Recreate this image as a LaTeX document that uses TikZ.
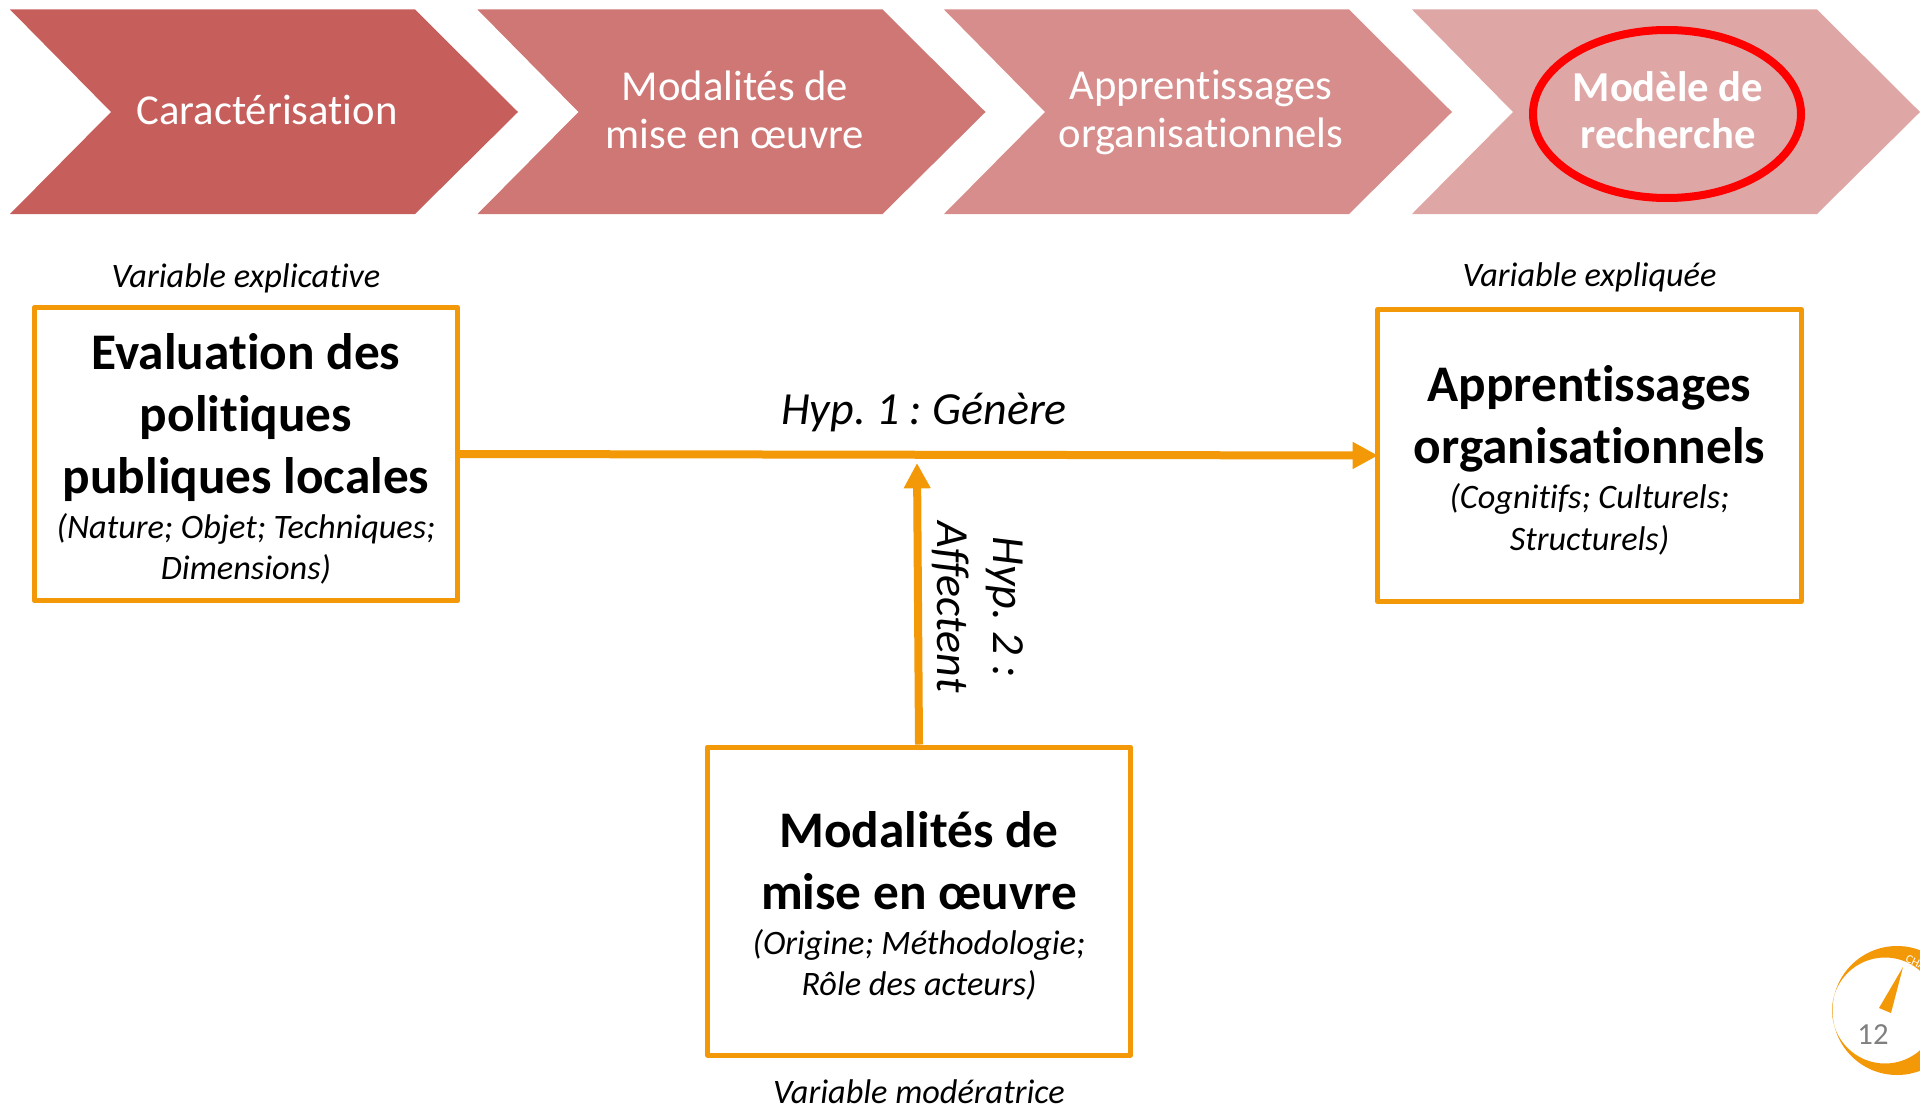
\documentclass[tikz,border=0pt]{standalone}
\usepackage{fontspec}
\setmainfont[Ligatures=NoCommon]{Carlito}
\usetikzlibrary{arrows.meta}

\definecolor{orangeline}{RGB}{243,152,6}
\definecolor{chevronA}{RGB}{198,95,92}
\definecolor{chevronB}{RGB}{206,119,117}
\definecolor{chevronC}{RGB}{214,141,139}
\definecolor{chevronD}{RGB}{223,166,166}
\definecolor{gaugetext}{RGB}{128,128,128}

\newcommand{\bigline}{\fontsize{38.5}{46.5}\selectfont\bfseries}
\newcommand{\smallline}{\vskip2.6pt\fontsize{25.7}{31.2}\selectfont\itshape}
\newcommand{\topgap}{\vskip-12pt}
\frenchspacing

\tikzset{every picture/.style={line width=0.75pt},
  chevrontext/.style={inner sep=0pt,align=center,text=white,font=\fontsize{32}{35.7}\selectfont},
  varbox/.style={draw=orangeline,line width=3.75pt,line join=round,fill=white,inner sep=0pt,align=flush center,text width=305pt,minimum width=317.5pt},
  varlabel/.style={inner sep=0pt,font=\fontsize{25.7}{31}\selectfont\itshape},
  hyplabel/.style={inner sep=0pt,align=center,font=\fontsize{34.5}{42}\selectfont\itshape},
  hyparrow/.style={draw=orangeline,line width=6pt,-{Triangle[length=19pt,width=19pt]},shorten >=-2pt}}

\begin{document}
\begin{tikzpicture}[x=0.75pt,y=0.75pt,yscale=-1,xscale=1]
\useasboundingbox (0,0) rectangle (1920,1106);

%Shape: Chevrons
\foreach \xoff/\chevcol in {0/chevronA,467.5/chevronB,934/chevronC,1402/chevronD}
  \fill [\chevcol,xshift=\xoff*0.75pt] (10,9.5) -- (415,9.5) -- (518,112) -- (415,214) -- (10,214) -- (111,112) -- cycle ;

% Text Node
\node (caracterisation) [chevrontext] at (267,110) {Caractérisation};
% Text Node
\node (modalitestitle) [chevrontext] at (735,110) {Modalités de\\mise en œuvre};
% Text Node
\node (apprentissagestitle) [chevrontext] at (1201,112.5) {Apprentissages\\organisationnels};
% Text Node
\node (modeletitle) [chevrontext,font=\fontsize{32}{35.7}\selectfont\bfseries] at (1668,110) {Modèle de\\recherche};
%Shape: Ellipse
\draw [red,line width=6pt] (1667,114) ellipse [x radius=134,y radius=84];

%Shape: Boxes
\node (evaluation) [varbox,minimum height=220pt] at (246,454) {\topgap{\bigline Evaluation des\\politiques\\publiques locales\par}{\smallline (Nature; Objet; Techniques;\\Dimensions)\par}};
\node (apprentissages) [varbox,minimum height=219pt] at (1589.5,455.5) {\topgap{\bigline Apprentissages\\organisationnels\par}{\smallline (Cognitifs; Culturels;\\Structurels)\par}};
\node (modalites) [varbox,minimum height=231pt] at (919,901) {\topgap{\bigline Modalités de\\mise en œuvre\par}{\smallline (Origine; Méthodologie;\\Rôle des acteurs)\par}};

%Straight Lines
\coordinate (hyptarget) at (917,463);
\draw [hyparrow] (evaluation.east) -- (apprentissages.west);
\draw [hyparrow,shorten >=0pt] (modalites.north) -- (hyptarget);

% Text Node
\node (varexplicative) [varlabel] at (246,278.5) {Variable explicative};
% Text Node
\node (varexpliquee) [varlabel] at (1589.5,277.5) {Variable expliquée};
% Text Node
\node (varmoderatrice) [varlabel] at (919,1091.5) {Variable modératrice};
% Text Node
\node (hypone) [hyplabel] at (924,412.5) {Hyp. 1 : Génère};
% Text Node
\node (hyptwo) [hyplabel,rotate=-90] at (978,607) {Hyp. 2 :\\Affectent};

%Shape: Gauge
\fill [orangeline,even odd rule] (1897,1010.5) circle [radius=64.5] (1885,1010.5) circle [radius=53];
\fill [orangeline] (1903,967) -- (1879,1008) -- (1891,1013) -- cycle ;
% Text Node
\node (pagenumber) [inner sep=0pt,text=gaugetext,font=\fontsize{23}{27}\selectfont] at (1873,1035) {12};
% Text Node
\node (gaugecaption) [inner sep=0pt,text=white,rotate=-25,anchor=west,font=\fontsize{9}{11}\selectfont] at (1906,958) {CHA};

\end{tikzpicture}
\end{document}
